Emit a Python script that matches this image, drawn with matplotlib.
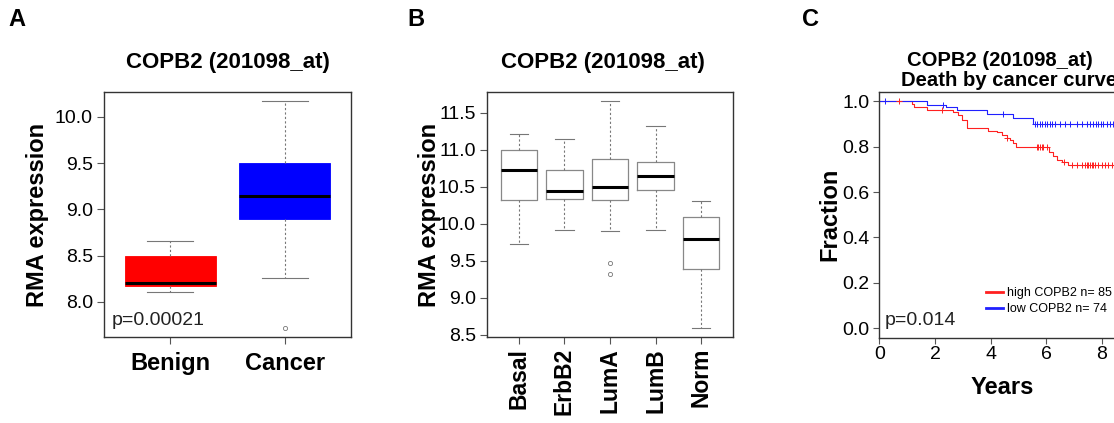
import numpy as np
import matplotlib
matplotlib.use("Agg")
import matplotlib.pyplot as plt

plt.rcParams['font.family'] = ['Liberation Sans', 'DejaVu Sans']

# ---- panel A: benign vs cancer (box stats)
a_labels = ["Benign", "Cancer"]
a_whislo = [8.11, 8.26]
a_q1 = [8.17, 8.90]
a_med = [8.20, 9.15]
a_q3 = [8.50, 9.50]
a_whishi = [8.66, 10.17]
a_fliers = [[], [7.72]]
a_colors = ["#ff0000", "#0000ff"]

# ---- panel B: subtypes
b_labels = ["Basal", "ErbB2", "LumA", "LumB", "Norm"]
b_whislo = [9.72, 9.92, 9.90, 9.91, 8.59]
b_q1 = [10.32, 10.33, 10.32, 10.45, 9.39]
b_med = [10.73, 10.44, 10.50, 10.65, 9.79]
b_q3 = [10.99, 10.73, 10.87, 10.83, 10.09]
b_whishi = [11.21, 11.15, 11.66, 11.32, 10.31]
b_fliers = [[], [], [9.47, 9.32], [], []]

# ---- panel C: KM curves (step times / surviving fraction)
high_t = [0, 1.16, 1.24, 1.70, 2.64, 2.82, 2.98, 3.14, 3.92, 4.22, 4.40, 4.58,
          4.70, 4.82, 4.92, 6.11, 6.23, 6.37, 6.55, 6.79, 9.0]
high_s = [1.0, 0.987, 0.974, 0.960, 0.950, 0.938, 0.916, 0.880, 0.868, 0.862, 0.850,
          0.838, 0.828, 0.814, 0.800, 0.777, 0.757, 0.742, 0.730, 0.720, 0.720]
high_cens = [0.71, 2.25, 4.58, 5.65, 5.72, 5.78, 5.84, 5.90, 6.02, 6.62, 6.91, 7.09,
             7.27, 7.39, 7.45, 7.51, 7.57, 7.63, 7.69, 7.75, 7.87, 7.99, 8.11, 8.23, 8.35]
low_t = [0, 1.73, 2.40, 2.78, 3.88, 4.79, 5.51, 9.0]
low_s = [1.0, 0.982, 0.972, 0.959, 0.943, 0.927, 0.900, 0.900]
low_cens = [0.20, 2.28, 4.46, 5.59, 5.68, 5.77, 5.86, 5.95, 6.04, 6.13, 6.22, 6.31,
            6.49, 6.67, 6.85, 7.12, 7.27, 7.45, 7.57, 7.69, 7.79, 7.87, 7.96, 8.05,
            8.17, 8.29, 8.39]
high_label = "high COPB2 n= 85"
low_label = "low COPB2 n= 74"

W, H = 1114, 423
fig = plt.figure(figsize=(W / 100, H / 100), dpi=100)


def px_axes(l, t, r, b):
    return fig.add_axes([l / W, 1 - b / H, (r - l) / W, (b - t) / H])


def make_stats(lo, q1, med, q3, hi, fl):
    return [dict(whislo=lo[i], q1=q1[i], med=med[i], q3=q3[i], whishi=hi[i], fliers=fl[i])
            for i in range(len(med))]


def r_style(ax):
    for s in ax.spines.values():
        s.set_linewidth(1.0)
        s.set_color("#333333")
    ax.tick_params(direction="out", length=5, width=0.8, color="#555555",
                   labelsize=14, pad=3)


title = "COPB2 (201098_at)"
gray = "#777777"

# ---------- A
axA = px_axes(104, 92, 351, 337)
bpA = axA.bxp(make_stats(a_whislo, a_q1, a_med, a_q3, a_whishi, a_fliers),
              positions=[1, 2], widths=0.8, capwidths=0.4, patch_artist=True,
              boxprops=dict(linewidth=0.6),
              medianprops=dict(color="black", linewidth=2.2),
              whiskerprops=dict(color=gray, linewidth=0.8, linestyle=(0, (2, 2))),
              capprops=dict(color=gray, linewidth=0.8),
              flierprops=dict(marker="o", markersize=3, markerfacecolor="none",
                              markeredgecolor=gray, markeredgewidth=0.6))
for p, c in zip(bpA["boxes"], a_colors):
    p.set_facecolor(c)
    p.set_edgecolor(c)
axA.set_xlim(0.42, 2.58)
axA.set_ylim(7.62, 10.27)
axA.set_yticks([8.0, 8.5, 9.0, 9.5, 10.0])
axA.set_yticklabels(["8.0", "8.5", "9.0", "9.5", "10.0"])
axA.set_xticks([1, 2])
axA.set_xticklabels(a_labels, fontsize=17, fontweight="bold")
r_style(axA)
axA.tick_params(axis="x", labelsize=17, pad=6)
axA.set_ylabel("RMA expression", fontsize=17, fontweight="bold", va="center")
axA.yaxis.set_label_coords(-0.27, 0.5)
axA.text(0.5, 1.122, title, transform=axA.transAxes, ha="center", va="center",
         fontsize=16, fontweight="bold")
axA.text(0.032, 0.049, "p=0.00021", transform=axA.transAxes, fontsize=14,
         va="baseline", color="#222222")

# ---------- B
axB = px_axes(487, 92, 733, 337)
axB.bxp(make_stats(b_whislo, b_q1, b_med, b_q3, b_whishi, b_fliers),
        positions=range(1, 6), widths=0.8, capwidths=0.4,
        boxprops=dict(color="#888888", linewidth=0.9),
        medianprops=dict(color="black", linewidth=2.2),
        whiskerprops=dict(color=gray, linewidth=0.8, linestyle=(0, (2, 2))),
        capprops=dict(color=gray, linewidth=0.8),
        flierprops=dict(marker="o", markersize=3, markerfacecolor="none",
                        markeredgecolor=gray, markeredgewidth=0.6))
axB.set_xlim(0.3, 5.7)
axB.set_ylim(8.47, 11.78)
axB.set_yticks([8.5, 9.0, 9.5, 10.0, 10.5, 11.0, 11.5])
axB.set_yticklabels(["8.5", "9.0", "9.5", "10.0", "10.5", "11.0", "11.5"])
axB.set_xticks(range(1, 6))
axB.set_xticklabels(b_labels, rotation=90, fontsize=16.5, fontweight="bold")
r_style(axB)
axB.tick_params(axis="x", labelsize=16.5, pad=3)
axB.set_ylabel("RMA expression", fontsize=17, fontweight="bold", va="center")
axB.yaxis.set_label_coords(-0.235, 0.5)
axB.text(0.47, 1.122, title, transform=axB.transAxes, ha="center", va="center",
         fontsize=16, fontweight="bold")

# ---------- C
axC = px_axes(879.3, 92, 1125, 337.5)
axC.step(high_t, high_s, where="post", color="#ff2020", lw=0.8, label=high_label)
axC.step(low_t, low_s, where="post", color="#2020ff", lw=0.8, label=low_label)
hi_idx = np.searchsorted(high_t, high_cens, side="right") - 1
lo_idx = np.searchsorted(low_t, low_cens, side="right") - 1
axC.plot(high_cens, np.array(high_s)[hi_idx], "+", color="#ff2020", ms=4, mew=0.7)
axC.plot(low_cens, np.array(low_s)[lo_idx], "+", color="#2020ff", ms=4, mew=0.7)
axC.set_xlim(0, 8.83)
axC.set_ylim(-0.04, 1.04)
axC.set_xticks([0, 2, 4, 6, 8])
axC.set_yticks([0.0, 0.2, 0.4, 0.6, 0.8, 1.0])
axC.set_yticklabels(["0.0", "0.2", "0.4", "0.6", "0.8", "1.0"])
r_style(axC)
axC.tick_params(length=4)
axC.tick_params(axis="x", pad=2)
axC.set_xlabel("Years", fontsize=17, fontweight="bold", va="center")
axC.xaxis.set_label_coords(0.5, -0.205)
axC.set_ylabel("Fraction", fontsize=17, fontweight="bold", va="center")
axC.yaxis.set_label_coords(-0.2, 0.5)
axC.text(0.49, 1.13, title, transform=axC.transAxes, ha="center", va="center",
         fontsize=14.6, fontweight="bold")
axC.text(0.088, 1.045, "Death by cancer curves", transform=axC.transAxes, ha="left",
         va="center", fontsize=14.6, fontweight="bold")
axC.text(0.023, 0.051, "p=0.014", transform=axC.transAxes, fontsize=14,
         va="baseline", color="#222222")
leg = axC.legend(loc="upper left", bbox_to_anchor=(0.415, 0.225), frameon=False,
                 fontsize=9, handlelength=1.3, handletextpad=0.35,
                 labelspacing=0.3, borderaxespad=0)
for ln in leg.get_lines():
    ln.set_linewidth(2)

# panel letters
for x, lab in [(8, "A"), (407, "B"), (802, "C")]:
    fig.text(x / W, 1 - 8 / H, lab, fontsize=17, fontweight="bold", va="top", ha="left")

fig.savefig("out.png", dpi=100)
